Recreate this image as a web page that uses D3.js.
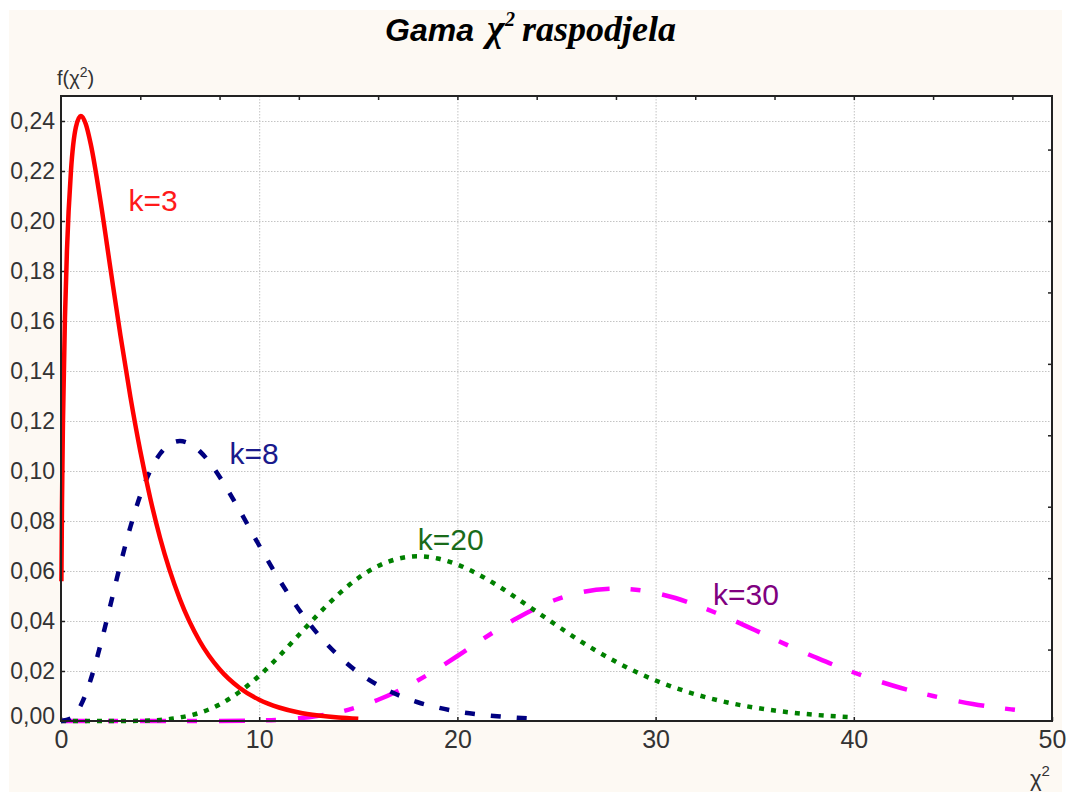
<!DOCTYPE html>
<html><head><meta charset="utf-8">
<script src="https://cdn.jsdelivr.net/npm/d3@7"></script>
<style>
html,body{margin:0;padding:0;background:#fff;}
svg{display:block;}
</style></head>
<body>
<svg id="chart" width="1070" height="792"></svg>
<script>
// ---- data ----
const xTicks = [0, 10, 20, 30, 40, 50];
const yTicks = [0, 0.02, 0.04, 0.06, 0.08, 0.10, 0.12, 0.14, 0.16, 0.18, 0.20, 0.22, 0.24];

const x3 = [0.02,0.05,0.1,0.2,0.3,0.5,0.75,1,1.25,1.5,2,2.5,3,3.5,4,4.5,5,6,7,8,9,10,11,12,13,14,15];
const k3 = [0.0559,0.0870,0.1200,0.1614,0.1881,0.2197,0.2375,0.2420,0.2388,0.2308,0.2076,0.1807,0.1542,0.1297,0.1080,0.0892,0.0732,0.0487,0.0319,0.0207,0.0133,0.0085,0.0054,0.0034,0.0022,0.0014,0.0009];

const x8 = [0,0.5,1,1.5,2,2.5,3,3.5,4,4.5,5,5.5,6,6.5,7,7.5,8,9,10,11,12,13,14,15,16,17,18,19,20,21,22,23,24,24.3];
const k8 = [0,0.0010,0.0063,0.0166,0.0307,0.0466,0.0628,0.0776,0.0902,0.1001,0.1069,0.1108,0.1120,0.1109,0.1079,0.1034,0.0977,0.0844,0.0702,0.0567,0.0446,0.0344,0.0261,0.0194,0.0143,0.0104,0.0075,0.0054,0.0038,0.0027,0.0019,0.0013,0.0009,0.0008];

const x20 = [0,2,3,4,5,6,7,8,9,10,11,12,13,14,15,16,17,18,19,20,21,22,23,24,25,26,27,28,29,30,32,34,36,38,40];
const k20 = [0,0,0,0.0001,0.0004,0.0014,0.0033,0.0066,0.0116,0.0181,0.0259,0.0344,0.0429,0.0507,0.0572,0.0620,0.0649,0.0659,0.0650,0.0626,0.0589,0.0543,0.0491,0.0437,0.0383,0.0330,0.0281,0.0237,0.0197,0.0162,0.0107,0.0068,0.0042,0.0025,0.0015];

const x30 = [0,5,8,10,11,12,13,14,15,16,17,18,19,20,21,22,23,24,25,26,27,28,29,30,31,32,33,34,35,36,37,38,39,40,41,42,43,44,45,46,47,48,49];
const k30 = [0,0,0,0.0002,0.0005,0.0011,0.0021,0.0035,0.0057,0.0085,0.0120,0.0162,0.0209,0.0260,0.0313,0.0364,0.0411,0.0452,0.0486,0.0510,0.0525,0.0530,0.0525,0.0512,0.0492,0.0465,0.0434,0.0400,0.0364,0.0327,0.0291,0.0257,0.0224,0.0194,0.0166,0.0141,0.0119,0.0100,0.0083,0.0068,0.0056,0.0046,0.0037];

const seriesNames = ["k=30", "k=20", "k=8", "k=3"];
const labelPos = [[32.9, 0.0465], [18.0, 0.0685], [8.5, 0.1030], [3.4, 0.2042]];

// ---- layout ----
const svg = d3.select("#chart");
const L = 61, R = 1052, T = 96, B = 721;
const x = d3.scaleLinear().domain([0, 50]).range([L, R]);
const y = d3.scaleLinear().domain([0, 0.25]).range([B, T]);

svg.append("rect").attr("x",0).attr("y",0).attr("width",1070).attr("height",792).attr("fill","#ffffff");
svg.append("rect").attr("x",9).attr("y",10).attr("width",1053).attr("height",782).attr("fill","#fdf9f3");
svg.append("rect").attr("x",L).attr("y",T).attr("width",R-L).attr("height",B-T).attr("fill","#ffffff");

// grid
const grid = svg.append("g").attr("stroke","#c4c4c4").attr("stroke-width",1).attr("stroke-dasharray","1.5,1.5");
grid.selectAll("line.h").data(yTicks.filter(d=>d>0)).join("line")
  .attr("x1",L).attr("x2",R).attr("y1",d=>y(d)+0.5).attr("y2",d=>y(d)+0.5);
grid.selectAll("line.v").data(xTicks.filter(d=>d>0&&d<50)).join("line")
  .attr("y1",T).attr("y2",B).attr("x1",d=>x(d)+0.5).attr("x2",d=>x(d)+0.5);

// axes
const fmt = d => d3.format(".2f")(d).replace(".", ",");
const yAxis = svg.append("g").attr("transform",`translate(${L},0)`)
  .call(d3.axisLeft(y).tickValues(yTicks).tickFormat(fmt).tickSize(-4).tickPadding(6));
yAxis.select(".domain").remove();
yAxis.selectAll("text").attr("font-family","Liberation Sans, Arial, sans-serif").attr("font-size",23).attr("fill","#333");
yAxis.selectAll("text").filter(d=>d===0).attr("dy","0.1em");

const xAxis = svg.append("g").attr("transform",`translate(0,${B})`)
  .call(d3.axisBottom(x).tickValues(xTicks).tickFormat(d3.format("d")).tickSize(-4).tickPadding(9));
xAxis.select(".domain").remove();
xAxis.selectAll("text").attr("font-family","Liberation Sans, Arial, sans-serif").attr("font-size",25).attr("fill","#333");

// top and right minor ticks
const topTicks = d3.range(4, 50, 4);
svg.append("g").attr("transform",`translate(0,${T})`)
  .call(d3.axisTop(x).tickValues(topTicks).tickFormat("").tickSize(-4))
  .select(".domain").remove();
const rightTicks = d3.range(1, 9).map(i => i * 0.25 / 8.75);
svg.append("g").attr("transform",`translate(${R},0)`)
  .call(d3.axisRight(y).tickValues(rightTicks).tickFormat("").tickSize(-4))
  .select(".domain").remove();
svg.selectAll(".tick line").attr("stroke","#222").attr("stroke-width",1.5);

// curves
const line = d3.line().x(d=>x(d[0])).y(d=>y(d[1])).curve(d3.curveMonotoneX);
const curves = [
  {xs:x30, ys:k30, color:"#ff00ff", dash:"26,21,10,22", w:4.5},
  {xs:x20, ys:k20, color:"#008000", dash:"5,7", w:4.5},
  {xs:x8,  ys:k8,  color:"#000080", dash:"10,16", w:4.5},
  {xs:x3,  ys:k3,  color:"#ff0000", dash:null, w:4.5}
];
const cg = svg.append("g");
curves.forEach(c => {
  const pts = c.xs.map((v,i)=>[v, c.ys[i]]);
  cg.append("path").attr("d", line(pts)).attr("fill","none")
    .attr("stroke", c.color).attr("stroke-width", c.w)
    .attr("stroke-dasharray", c.dash);
});

// frame
svg.append("rect").attr("x",L).attr("y",T).attr("width",R-L).attr("height",B-T)
  .attr("fill","none").attr("stroke","#222").attr("stroke-width",2);

// curve labels
const labelColors = ["#800080", "#1a6b1a", "#1a1a8c", "#ff1a1a"];
svg.append("g").selectAll("text").data(seriesNames).join("text")
  .attr("x",(d,i)=>x(labelPos[i][0])).attr("y",(d,i)=>y(labelPos[i][1]))
  .attr("font-family","Liberation Sans, Arial, sans-serif").attr("font-size",30)
  .attr("fill",(d,i)=>labelColors[i]).text(d=>d);

// title
const title = svg.append("text").attr("y",41).attr("fill","#000");
title.append("tspan").attr("x",385).attr("font-family","Liberation Sans, Arial, sans-serif")
  .attr("font-weight","bold").attr("font-style","italic").attr("font-size",32).text("Gama");
title.append("tspan").attr("x",487).attr("font-family","Liberation Serif, Times New Roman, serif")
  .attr("font-weight","bold").attr("font-style","italic").attr("font-size",38).text("χ");
title.append("tspan").attr("x",505).attr("dy",-15).attr("font-family","Liberation Serif, Times New Roman, serif")
  .attr("font-weight","bold").attr("font-style","italic").attr("font-size",20).text("2");
title.append("tspan").attr("x",522).attr("dy",15).attr("font-family","Liberation Serif, Times New Roman, serif")
  .attr("font-weight","bold").attr("font-style","italic").attr("font-size",36).text("raspodjela");

// axis titles
const yt = svg.append("text").attr("x",57).attr("y",85).attr("fill","#333")
  .attr("font-family","Liberation Sans, Arial, sans-serif").attr("font-size",20);
yt.append("tspan").text("f(χ");
yt.append("tspan").attr("dy",-8).attr("font-size",14).text("2");
yt.append("tspan").attr("dy",8).text(")");

const xt = svg.append("text").attr("x",1030).attr("y",786).attr("fill","#333")
  .attr("font-family","Liberation Sans, Arial, sans-serif").attr("font-size",22);
xt.append("tspan").text("χ");
xt.append("tspan").attr("dy",-10).attr("font-size",15).text("2");
</script>
</body></html>
